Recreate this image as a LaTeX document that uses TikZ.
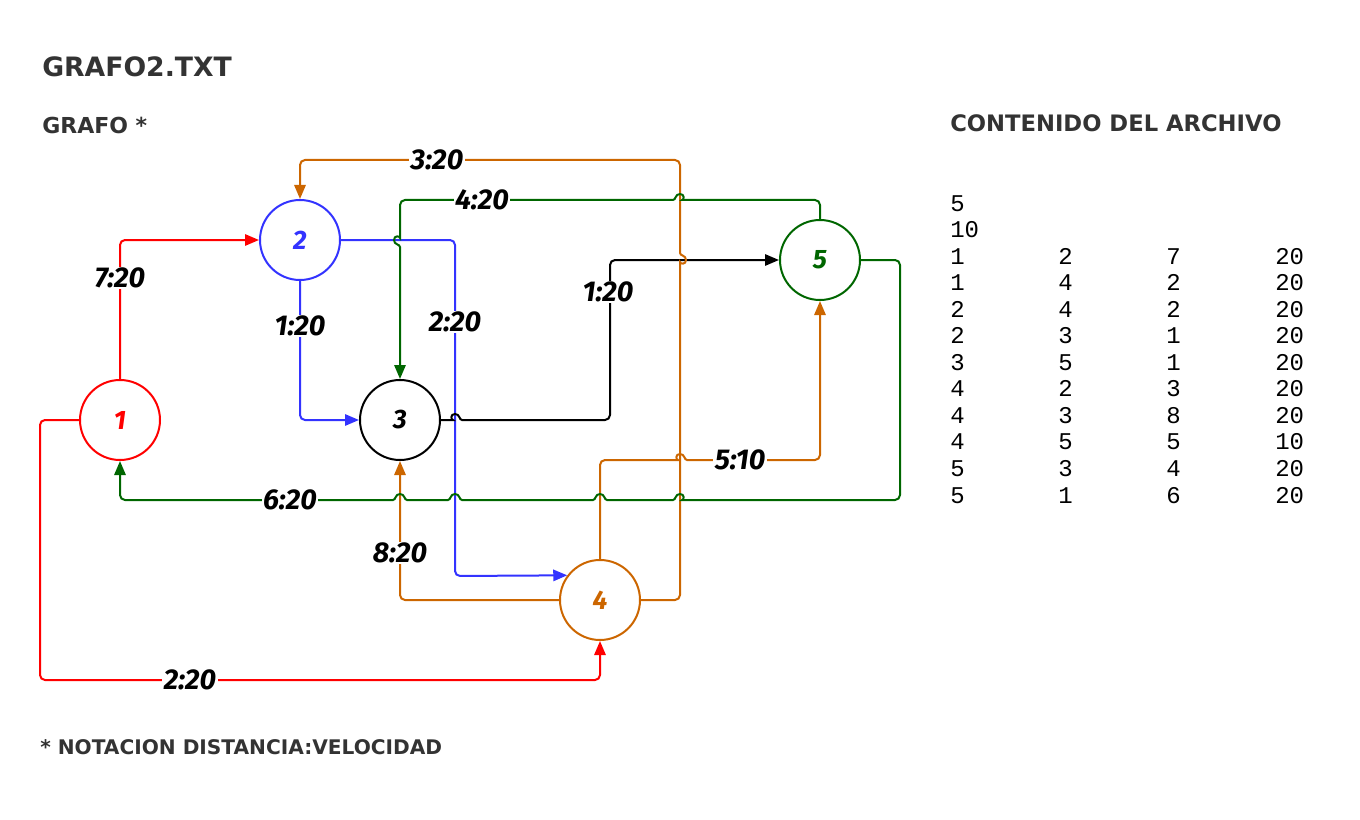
\documentclass[tikz,border=0pt]{standalone}
\usepackage{fontspec}
\setmainfont{Fira Sans}
\newfontfamily\monofnt{Liberation Mono}
\newfontfamily\hdrfont{DejaVu Sans}
\usetikzlibrary{arrows.meta}
\definecolor{cred}{HTML}{FF0000}
\definecolor{cblue}{HTML}{3333FF}
\definecolor{corange}{HTML}{CC6600}
\definecolor{cgreen}{HTML}{006600}
\definecolor{cgray}{HTML}{333333}
\tikzset{
  vert/.style={circle, draw=#1, text=#1, line width=1.5pt, minimum size=60pt, inner sep=0pt, font=\fontsize{20}{22}\selectfont\bfseries\itshape},
  edge/.style={draw=#1, line width=1.5pt, rounded corners=3.75pt, -{Triangle[length=10.5pt,width=8.5pt]}},
  lbl/.style={fill=white, inner sep=1pt, text=black, font=\fontsize{21.5}{23}\selectfont\bfseries\itshape},
  hdr/.style={anchor=base west, text=cgray, inner sep=0pt},
  tbl/.style={anchor=base west, inner sep=0pt, font=\monofnt\fontsize{18}{20}\selectfont}
}
\begin{document}
\begin{tikzpicture}[x=0.75pt,y=-0.75pt]
\useasboundingbox (0,0) rectangle (1360,820);

% headers
\node[hdr, font=\hdrfont\fontsize{20}{24}\selectfont\bfseries] (title) at (42,77) {GRAFO2.TXT};
\node[hdr, font=\hdrfont\fontsize{16.5}{20}\selectfont\bfseries] (grafo) at (42,134) {GRAFO *};
\node[hdr, font=\hdrfont\fontsize{17}{20}\selectfont\bfseries] (cont) at (950,132) {CONTENIDO DEL ARCHIVO};
\node[hdr, font=\hdrfont\fontsize{15.1}{18}\selectfont\bfseries] (nota) at (40,754) {* NOTACION DISTANCIA:VELOCIDAD};

% vertices
\node[vert=cred] (n1) at (120,420) {1};
\node[vert=cblue] (n2) at (300,240) {2};
\node[vert=black] (n3) at (400,420) {3};
\node[vert=corange] (n4) at (600,600) {4};
\node[vert=cgreen] (n5) at (820,260) {5};

% edges
\draw[edge=cred] (n1.north) -- (120,240) -- (n2.west);
\draw[edge=cred] (n1.west) -- (40,420) -- (40,680) -- (600,680) -- (n4.south);
\draw[edge=cblue] (n2.south) -- (300,420) -- (n3.west);
\draw[edge=cblue] (n2.east) -- (455,240) -- (455,576) -- (n4.143.13);
\draw[edge=black] (n3.east) -- (448,420) [sharp corners] .. controls (451,420) and (450,414) .. (455,414) .. controls (460,414) and (459,420) .. (462,420) [rounded corners=3.75pt] -- (610,420) -- (610,260) -- (n5.west);
\draw[edge=corange] (n4.east) -- (680,600) -- (680,267) [sharp corners] .. controls (680,264) and (686,265) .. (686,260) .. controls (686,255) and (680,256) .. (680,253) [rounded corners=3.75pt] -- (680,160) -- (300,160) -- (n2.north);
\draw[edge=corange] (n4.west) -- (400,600) -- (n3.south);
\draw[edge=corange] (n4.north) -- (600,460) -- (673,460) [sharp corners] .. controls (676,460) and (675,454) .. (680,454) .. controls (685,454) and (684,460) .. (687,460) [rounded corners=3.75pt] -- (820,460) -- (n5.south);
\draw[edge=cgreen] (n5.north) -- (820,200) -- (687,200) [sharp corners] .. controls (684,200) and (685,194) .. (680,194) .. controls (675,194) and (676,200) .. (673,200) [rounded corners=3.75pt] -- (400,200) -- (400,233) [sharp corners] .. controls (400,236) and (394,235) .. (394,240) .. controls (394,245) and (400,244) .. (400,247) [rounded corners=3.75pt] -- (n3.north);
\draw[edge=cgreen] (n5.east) -- (900,260) -- (900,500) -- (687,500) [sharp corners]
  .. controls (684,500) and (685,494) .. (680,494) .. controls (675,494) and (676,500) .. (673,500)
  -- (607,500) .. controls (604,500) and (605,494) .. (600,494) .. controls (595,494) and (596,500) .. (593,500)
  -- (462,500) .. controls (459,500) and (460,494) .. (455,494) .. controls (450,494) and (451,500) .. (448,500)
  -- (407,500) .. controls (404,500) and (405,494) .. (400,494) .. controls (395,494) and (396,500) .. (393,500)
  [rounded corners=3.75pt] -- (120,500) -- (n1.south);

% edge labels
\node[lbl] (l12) at (120,278) {7:20};
\node[lbl] (l14) at (190,680) {2:20};
\node[lbl] (l23) at (300,326) {1:20};
\node[lbl] (l24) at (455,322) {2:20};
\node[lbl] (l35) at (608,292) {1:20};
\node[lbl] (l42) at (437,160) {3:20};
\node[lbl] (l43) at (400,553) {8:20};
\node[lbl] (l45) at (740,460) {5:10};
\node[lbl] (l53) at (482,200) {4:20};
\node[lbl] (l51) at (290,500) {6:20};

% file contents
\node[tbl] (r0) at (950,211) {5};
\node[tbl] (r1) at (950,237.5) {10};
\foreach \a/\b/\c/\d [count=\i from 2] in {1/2/7/20,1/4/2/20,2/4/2/20,2/3/1/20,3/5/1/20,4/2/3/20,4/3/8/20,4/5/5/10,5/3/4/20,5/1/6/20}{
  \pgfmathsetmacro{\yy}{211+26.55*\i}
  \node[tbl] (c1r\i) at (950,\yy) {\a};
  \node[tbl] (c2r\i) at (1058,\yy) {\b};
  \node[tbl] (c3r\i) at (1166,\yy) {\c};
  \node[tbl] (c4r\i) at (1275,\yy) {\d};
}
\end{tikzpicture}
\end{document}
